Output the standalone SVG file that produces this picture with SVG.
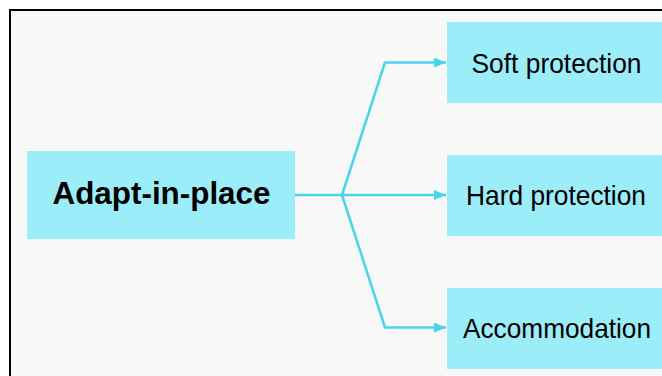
<svg xmlns="http://www.w3.org/2000/svg" width="662" height="376" viewBox="0 0 662 376">
  <style>
    .box { fill: #9cedfa; }
    .lbl { font-family: "Liberation Sans", Arial, sans-serif; fill: #000; text-anchor: middle; }
    .edge { fill: none; stroke: #48d4ef; stroke-width: 2.5; stroke-linejoin: round; }
  </style>
  <defs>
    <marker id="arrow" markerWidth="12" markerHeight="10" refX="12" refY="5" orient="auto" markerUnits="userSpaceOnUse">
      <path d="M0,0 L12,5 L0,10 Z" fill="#48d4ef"/>
    </marker>
  </defs>
  <rect x="0" y="0" width="662" height="376" fill="#ffffff"/>
  <!-- frame -->
  <rect x="10" y="10" width="680" height="400" fill="#f8f8f8" stroke="#000" stroke-width="2"/>

  <g id="adapt-in-place">
    <rect class="box" x="27" y="151" width="268" height="88"/>
    <text class="lbl" x="161.5" y="203.5" font-size="31" font-weight="bold" textLength="218" lengthAdjust="spacingAndGlyphs">Adapt-in-place</text>
  </g>
  <g id="soft-protection">
    <rect class="box" x="447" y="22" width="220" height="81"/>
    <text class="lbl" x="556.5" y="72.5" font-size="28" textLength="170" lengthAdjust="spacingAndGlyphs">Soft protection</text>
  </g>
  <g id="hard-protection">
    <rect class="box" x="447" y="155" width="220" height="81"/>
    <text class="lbl" x="556" y="205" font-size="28" textLength="180" lengthAdjust="spacingAndGlyphs">Hard protection</text>
  </g>
  <g id="accommodation">
    <rect class="box" x="447" y="288" width="220" height="81"/>
    <text class="lbl" x="557" y="337.5" font-size="28" textLength="188" lengthAdjust="spacingAndGlyphs">Accommodation</text>
  </g>

  <g id="connectors">
    <path class="edge" d="M295,195 H342"/>
    <path class="edge" d="M342,195 L385,62.5 H446" marker-end="url(#arrow)"/>
    <path class="edge" d="M342,195 H446" marker-end="url(#arrow)"/>
    <path class="edge" d="M342,195 L385,327.5 H446" marker-end="url(#arrow)"/>
  </g>
</svg>
